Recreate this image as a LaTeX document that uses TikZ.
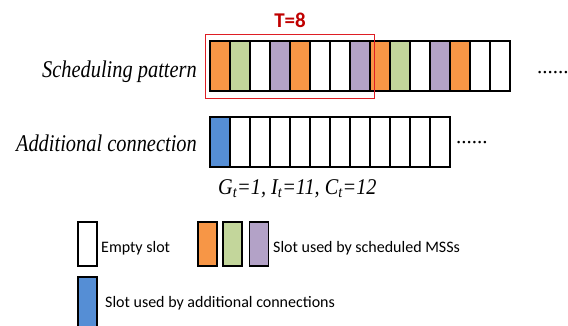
\documentclass[tikz,border=0pt]{standalone}
\usepackage{fontspec}
\usepackage{graphicx}
\setmainfont{Liberation Serif}
\newfontfamily\calibri{Carlito}
\usetikzlibrary{positioning, fit}
\definecolor{slot-orange}{RGB}{247,150,70}
\definecolor{slot-green}{RGB}{195,214,155}
\definecolor{slot-purple}{RGB}{179,162,199}
\definecolor{slot-blue}{RGB}{85,142,213}
\definecolor{period-red}{RGB}{222,30,36}
\definecolor{dark-red}{RGB}{192,0,0}
% row labels are set tall and narrow
\newcommand{\narrowtext}[1]{\scalebox{0.85}[1]{#1}}

\begin{document}
\begin{tikzpicture}[x=1pt, y=-1pt,
  slot/.style={draw=black, line width=1.6pt, minimum width=20pt, minimum height=50pt, inner sep=0pt, outer sep=0pt},
  keybox/.style={draw=black, line width=1.6pt, minimum width=19pt, minimum height=44pt, inner sep=0pt},
  rowlabel/.style={font=\fontsize{24}{28}\selectfont\itshape, inner sep=0pt},
  dots/.style={font=\fontsize{21}{24}\selectfont, inner sep=0pt, anchor=base west},
  keytext/.style={font=\calibri\fontsize{16}{19}\selectfont, inner sep=0pt, anchor=base west}]
  \useasboundingbox (0,0) rectangle (568,325);
  \clip (0,0) rectangle (568,325);

  % Scheduling pattern: one period of 8 slots, then repeated
  \foreach \c [count=\i] in {slot-orange, slot-green, white, slot-purple, slot-orange, white, white, slot-purple,
                             slot-orange, slot-green, white, slot-purple, slot-orange, white, white}
    \node[slot, fill=\c] (s\i) at (200+20*\i, 66) {};
  \node[rowlabel, anchor=base east] (sched) at (197,77) {\narrowtext{Scheduling pattern}};
  \node[dots] (schedmore) at (537,73) {......};

  % Period marker
  \node[draw=period-red, line width=1pt, inner xsep=4.5pt, inner ysep=7pt, fit=(s1)(s8)] (period) {};
  \node[font=\calibri\bfseries\fontsize{21}{24}\selectfont, text=dark-red, inner sep=0pt, above=6pt of period] (T) {T=8};

  % Additional connection
  \foreach \c [count=\i] in {slot-blue, white, white, white, white, white, white, white, white, white, white, white}
    \node[slot, fill=\c] (a\i) at (200+20*\i, 142) {};
  \node[rowlabel, anchor=base east] (extra) at (197,151.7) {\narrowtext{Additional connection}};
  \node[dots] (extramore) at (456,143) {......};
  \node[rowlabel, anchor=base west, font=\fontsize{22.5}{26}\selectfont\itshape] (params) at (218,194)
    {\scalebox{0.9}[1]{G\textsubscript{t}=1, I\textsubscript{t}=11, C\textsubscript{t}=12}};

  % Legend
  \node[keybox, fill=white] (kempty) at (87.5,244) {};
  \node[keytext] (tempty) at (101,252) {Empty slot};
  \node[keybox, fill=slot-orange] (korange) at (207.5,244) {};
  \node[keybox, fill=slot-green] (kgreen) at (232.5,244) {};
  \node[keybox, fill=slot-purple] (kpurple) at (259,244) {};
  \node[keytext] (tsched) at (273,252) {Slot used by scheduled MSSs};
  \node[keybox, fill=slot-blue, minimum height=50pt] (kblue) at (87.5,302) {};
  \node[keytext] (textra) at (105,307) {Slot used by additional connections};
\end{tikzpicture}
\end{document}
